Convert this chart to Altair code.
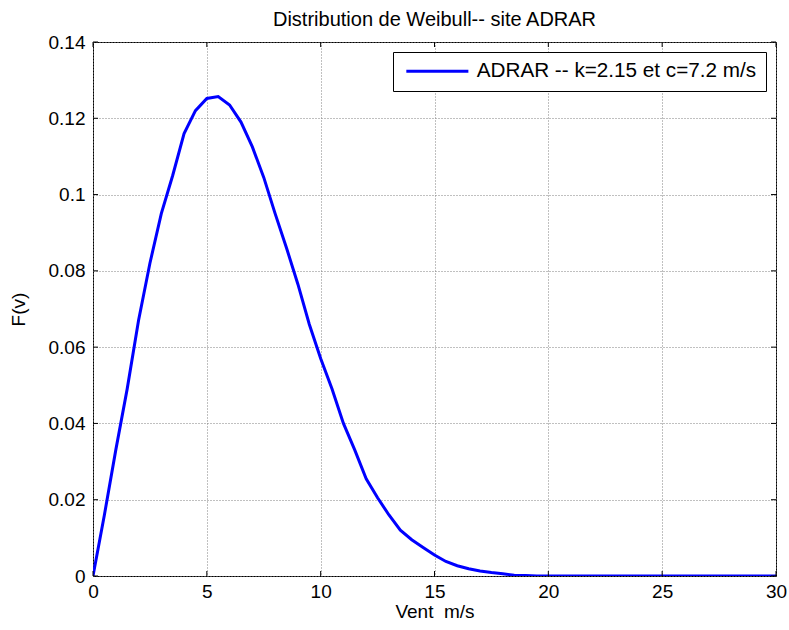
import altair as alt
import pandas as pd

# Wind speed (m/s) and the Weibull density
vent = [0.0, 0.5, 1.0, 1.5, 2.0, 2.5, 3.0, 3.5, 4.0, 4.5, 5.0, 5.5, 6.0, 6.5,
        7.0, 7.5, 8.0, 8.5, 9.0, 9.5, 10.0, 10.5, 11.0, 11.5, 12.0, 12.5,
        13.0, 13.5, 14.0, 14.5, 15.0, 15.5, 16.0, 16.5, 17.0, 17.5, 18.0,
        18.5, 19.0, 19.5, 20.0, 25.0, 30.0]
densite = [0.0, 0.016, 0.033, 0.049, 0.067, 0.082, 0.095, 0.105, 0.116,
           0.122, 0.1252, 0.1257, 0.1235, 0.119, 0.1125, 0.1045, 0.095,
           0.086, 0.0765, 0.066, 0.057, 0.049, 0.040, 0.033, 0.0255, 0.0205,
           0.016, 0.012, 0.0095, 0.0075, 0.0055, 0.0038, 0.0027, 0.0019,
           0.0013, 0.0009, 0.0006, 0.0002, 0.0001, 0.0, 0.0, 0.0, 0.0]

serie = "ADRAR -- k=2.15 et c=7.2 m/s"
x_ticks = [0, 5, 10, 15, 20, 25, 30]
y_ticks = [0, 0.02, 0.04, 0.06, 0.08, 0.10, 0.12, 0.14]

W, H = 683, 534
FONT = "Liberation Sans"
TICK = 5

df = pd.DataFrame({"v": vent, "f": densite, "serie": serie})
xt = pd.DataFrame({"t": x_ticks})
yt = pd.DataFrame({"t": y_ticks})

x_scale = alt.Scale(domain=[0, 30], nice=False, zero=False)
y_scale = alt.Scale(domain=[0, 0.14], nice=False, zero=False)

# one axis definition shared by every layer so the merged axis stays enabled
ax_x = alt.Axis(values=x_ticks, title="Vent\u00a0 m/s", labelPadding=6,
                titlePadding=1, labelFlush=False)
ax_y = alt.Axis(values=y_ticks, format="~g", title="F(v)", labelPadding=8,
                titlePadding=20, labelFlush=False)

courbe = alt.Chart(df).mark_line(strokeWidth=3, clip=True).encode(
    x=alt.X("v:Q", scale=x_scale, axis=ax_x),
    y=alt.Y("f:Q", scale=y_scale, axis=ax_y),
    color=alt.Color("serie:N", scale=alt.Scale(range=["#0000ff"]),
                    legend=alt.Legend(title=None, orient="none",
                                      legendX=300, legendY=10,
                                      symbolType="M-5,0H5", symbolSize=154,
                                      symbolOffset=25,
                                      symbolStrokeWidth=3, labelFontSize=20.7,
                                      labelFont=FONT, labelLimit=0,
                                      labelColor="black", labelOffset=29,
                                      strokeColor="black", fillColor="white",
                                      padding=9, cornerRadius=0)),
    order="v:Q",
)

# inward tick marks on all four sides of the box
tick_x_bas = alt.Chart(xt).mark_rule(color="black").encode(
    x=alt.X("t:Q", scale=x_scale, axis=ax_x),
    y=alt.value(H), y2=alt.value(H - TICK))
tick_x_haut = alt.Chart(xt).mark_rule(color="black").encode(
    x=alt.X("t:Q", scale=x_scale, axis=ax_x),
    y=alt.value(0), y2=alt.value(TICK))
tick_y_gauche = alt.Chart(yt).mark_rule(color="black").encode(
    y=alt.Y("t:Q", scale=y_scale, axis=ax_y),
    x=alt.value(0), x2=alt.value(TICK))
tick_y_droite = alt.Chart(yt).mark_rule(color="black").encode(
    y=alt.Y("t:Q", scale=y_scale, axis=ax_y),
    x=alt.value(W - TICK), x2=alt.value(W))

chart = alt.layer(
    courbe, tick_x_bas, tick_x_haut, tick_y_gauche, tick_y_droite
).properties(
    width=W, height=H,
    title=alt.TitleParams("Distribution de Weibull-- site ADRAR", font=FONT,
                          fontSize=20, fontWeight="normal", color="black",
                          offset=3),
    autosize=alt.AutoSizeParams(type="none"),
    padding={"left": 93, "top": 42, "right": 13, "bottom": 54},
    background="white",
).configure_view(
    stroke="black", strokeWidth=1
).configure_axis(
    domain=False, ticks=False, grid=True, gridColor="#808080",
    gridDash=[1, 2], gridWidth=1, gridOpacity=1,
    labelFont=FONT, labelFontSize=19, labelColor="black",
    titleFont=FONT, titleFontSize=19, titleFontWeight="normal",
    titleColor="black",
)

chart.save("out.html", embed_options={"renderer": "svg", "actions": False})
